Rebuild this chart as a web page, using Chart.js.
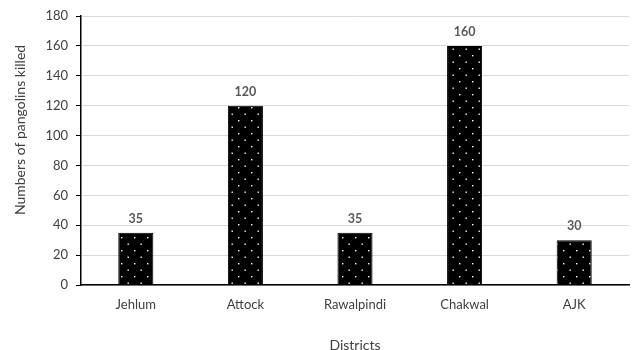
<!DOCTYPE html>
<html>
<head>
<meta charset="utf-8">
<script src="https://cdn.jsdelivr.net/npm/chart.js@4"></script>
<style>
  html, body { margin: 0; padding: 0; background: #fff; }
  #wrap { width: 637px; height: 350px; }
</style>
</head>
<body>
<div id="wrap"><canvas id="chart"></canvas></div>
<script>
// Pangolins killed per district
const districts = ["Jehlum", "Attock", "Rawalpindi", "Chakwal", "AJK"];
const killed = [35, 120, 35, 160, 30];
const yTitle = "Numbers of pangolins killed";

// black fill with staggered white dots
const makeDots = () => {
  const tile = document.createElement("canvas");
  tile.width = 13;
  tile.height = 13;
  const t = tile.getContext("2d");
  t.fillStyle = "#000";
  t.fillRect(0, 0, 13, 13);
  t.fillStyle = "#fff";
  t.fillRect(4, 3, 1.4, 1.4);
  t.fillRect(10.5, 9.5, 1.4, 1.4);
  return t.createPattern(tile, "repeat");
};

const ctx = document.getElementById("chart").getContext("2d");

// value labels above bars + y title (Excel centres it on the chart, not the plot)
const extraText = {
  id: "extraText",
  afterDatasetsDraw(chart) {
    const c = chart.ctx;
    const meta = chart.getDatasetMeta(0);
    c.save();
    c.font = "bold 12.5px Lato";
    c.fillStyle = "#595959";
    c.textAlign = "center";
    c.textBaseline = "middle";
    meta.data.forEach((bar, i) => {
      c.fillText(killed[i], bar.x, bar.y - 14);
    });
    c.translate(20, 130);
    c.rotate(-Math.PI / 2);
    c.font = "14px Lato";
    c.fillStyle = "#404040";
    c.fillText(yTitle, 0, 0);
    c.restore();
  },
};

new Chart(ctx, {
  type: "bar",
  data: {
    labels: districts,
    datasets: [
      {
        data: killed,
        backgroundColor: makeDots(),
        borderColor: "#000",
        borderWidth: 1,
        categoryPercentage: 1.0,
        barPercentage: 0.32,
      },
    ],
  },
  options: {
    responsive: true,
    maintainAspectRatio: false,
    animation: false,
    layout: { padding: { top: 16, right: 8, left: 0, bottom: 0 } },
    plugins: {
      legend: { display: false },
      tooltip: { enabled: false },
    },
    scales: {
      x: {
        grid: { display: false, drawTicks: false },
        border: { color: "#000", width: 1.5 },
        ticks: { color: "#404040", font: { family: "Lato", size: 13 }, padding: 12 },
        title: {
          display: true,
          text: "Districts",
          color: "#404040",
          font: { family: "Lato", size: 14 },
          padding: { bottom: -4 },
        },
        afterFit: (scale) => { scale.height = 65; },
      },
      y: {
        min: 0,
        max: 180,
        grid: { color: "#d9d9d9", tickColor: "#000", tickLength: 5, lineWidth: 1 },
        border: { color: "#000", width: 1.5 },
        ticks: { stepSize: 20, color: "#404040", font: { family: "Lato", size: 13 }, padding: 8 },
        afterFit: (scale) => { scale.width = 81; },
      },
    },
  },
  plugins: [extraText],
});
</script>
</body>
</html>
